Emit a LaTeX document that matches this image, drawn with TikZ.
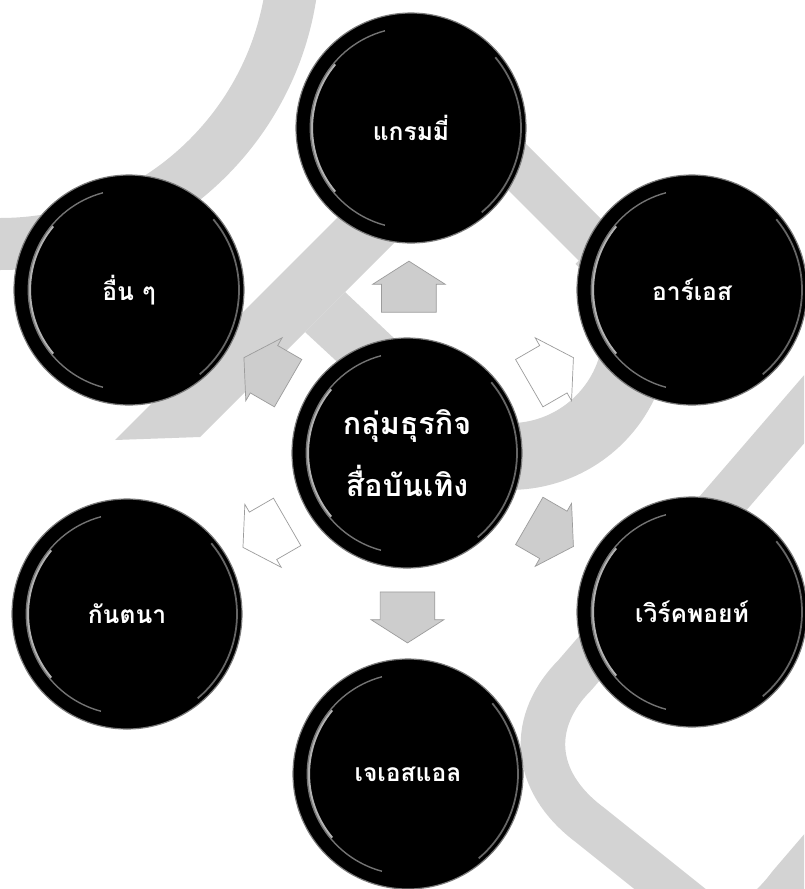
\documentclass[tikz,border=0pt]{standalone}
\usepackage{fontspec}
\usepackage{tikz}
\usetikzlibrary{shapes.arrows,calc,positioning}
\newfontfamily\thaifont[Script=Thai]{Loma}
\definecolor{wmgray}{HTML}{D3D3D3}
\definecolor{arrfill}{HTML}{CDCDCD}
\definecolor{arrline}{HTML}{9C9C9C}
\definecolor{ballrim}{HTML}{7A7A7A}
\tikzset{
  ball/.style={circle,fill=black,draw=ballrim,line width=1pt,minimum size=6.9cm,inner sep=0pt,
               align=center,text=white,font=\thaifont\bfseries\fontsize{21}{26}\selectfont,
               path picture={
                 \draw[white!70!black,line width=2.4pt]
                   ([shift={(140:2.98cm)}]path picture bounding box.center) arc[start angle=140,end angle=220,radius=2.98cm];
                 \draw[white!45!black,line width=1.2pt]
                   ([shift={(105:3.02cm)}]path picture bounding box.center) arc[start angle=105,end angle=255,radius=3.02cm];
                 \draw[white!40!black,line width=1.5pt]
                   ([shift={(-50:3.3cm)}]path picture bounding box.center) arc[start angle=-50,end angle=40,radius=3.3cm];
               }},
  hub/.style={ball,font=\thaifont\bfseries\fontsize{26}{53}\selectfont},
  blockarrow/.style={single arrow,draw=arrline,line width=0.6pt,fill=arrfill,
                     minimum height=1.53cm,minimum width=2.16cm,inner xsep=0pt,inner ysep=0.81cm,
                     single arrow head extend=0.27cm,single arrow tip angle=115},
  wmband/.style={fill=wmgray,draw=none},
}

\begin{document}
\begin{tikzpicture}[x=0.03cm,y=-0.03cm]
\useasboundingbox (0,0) rectangle (804,889);
\fill[white] (0,0) rectangle (804,889);
% watermark behind everything
\begin{scope}
\clip (0,0) rectangle (804,889);
\fill[wmband,even odd rule] (0,-50) circle[radius=320] (0,-50) circle[radius=268];
\fill[wmband] (115,440) -- (435,120) -- (517,120) -- (200,437) -- cycle;
\fill[wmband] (448,130) -- (512,130) -- (692,310) -- (628,310) -- cycle;
\draw[wmgray,line width=57pt] (510,330) ++(-45:126.5) arc[start angle=-45,end angle=160,radius=126.5];
\fill[wmband] (345,292) -- (430,372) -- (400,420) -- (305,332) -- cycle;
\draw[wmgray,line width=38pt] (825,385) -- (575,675) .. controls (530,720) and (530,780) .. (590,825)
  -- (690,905) .. controls (730,937) and (760,925) .. (790,885) -- (850,815);
\end{scope}
% circles
\node[hub]  (core) at (407,453) {กลุ่มธุรกิจ\\สื่อบันเทิง};
\node[ball] (gmm)  at (411,128) {แกรมมี่};
\node[ball] (rs)   at (692,290) {อาร์เอส};
\node[ball] (wpt)  at (692,612) {เวิร์คพอยท์};
\node[ball] (jsl)  at (408,774) {เจเอสแอล};
\node[ball] (ktn)  at (127,614) {กันตนา};
\node[ball] (oth)  at (129,290) {อื่น ๆ};
% block arrows out of the hub
\node[blockarrow,rotate=90]   (a1) at ($(core)!0.485!(gmm)$) {};
\node[blockarrow,rotate=30,fill=white]  (a2) at ($(core)!0.48!(rs)$) {};
\node[blockarrow,rotate=-30]  (a3) at ($(core)!0.48!(wpt)$) {};
\node[blockarrow,rotate=-90]  (a4) at ($(core)!0.485!(jsl)$) {};
\node[blockarrow,rotate=-150,fill=white] (a5) at ($(core)!0.48!(ktn)$) {};
\node[blockarrow,rotate=150]  (a6) at ($(core)!0.48!(oth)$) {};
\end{tikzpicture}
\end{document}
